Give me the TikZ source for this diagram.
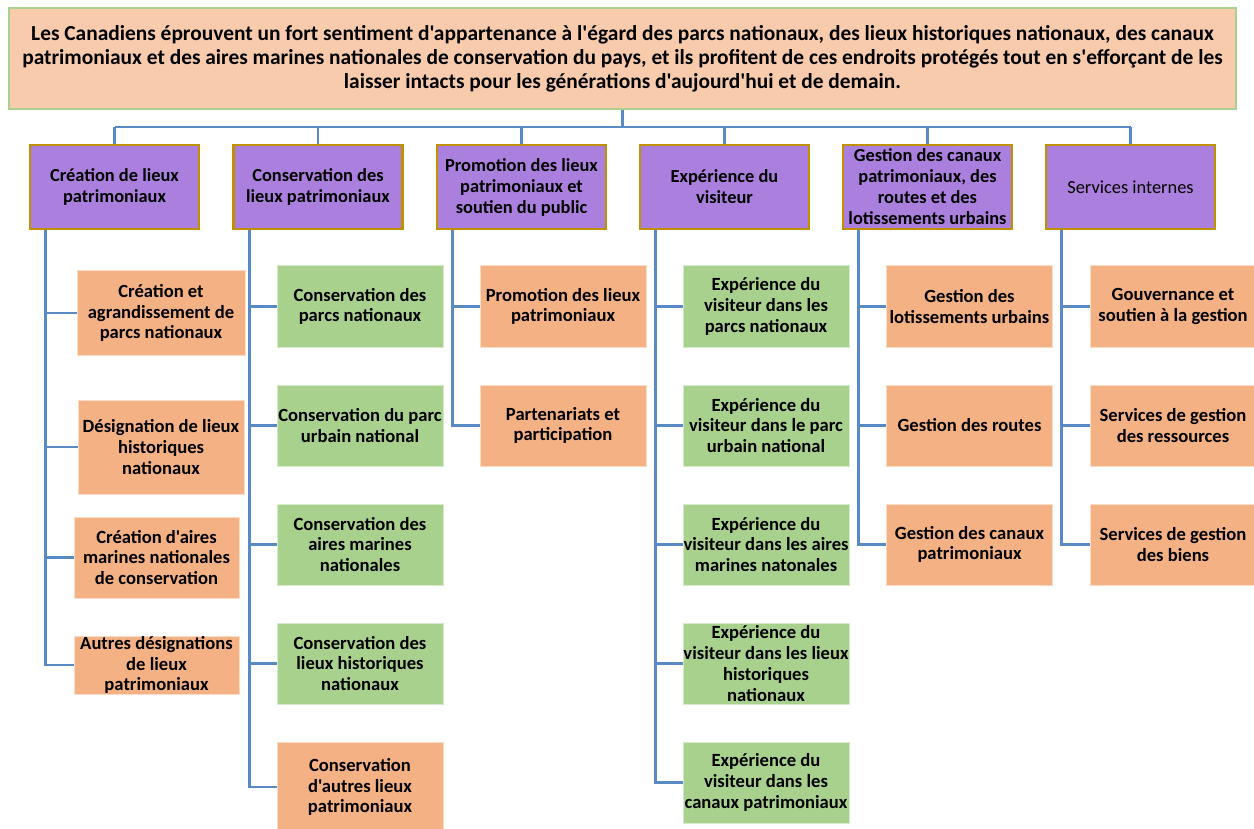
\documentclass[tikz,border=0pt]{standalone}
\usepackage{fontspec}
\newfontfamily\carl{Carlito}
\definecolor{topfill}{HTML}{F8CBAD}
\definecolor{topline}{HTML}{A9D18E}
\definecolor{catfill}{HTML}{AB7FDD}
\definecolor{catline}{HTML}{BF9000}
\definecolor{orfill}{HTML}{F4B183}
\definecolor{grfill}{HTML}{A9D18E}
\definecolor{conncol}{HTML}{5A8AC6}
\tikzset{
  x=1pt,y=-1pt,
  topbox/.style={fill=topfill,draw=topline,line width=1.5pt,minimum width=1227pt,minimum height=101pt,inner sep=0pt,align=center,font=\carl\bfseries\fontsize{21.4}{23.8}\selectfont},
  catbox/.style={fill=catfill,draw=catline,line width=2.5pt,minimum width=169pt,minimum height=84pt,inner sep=0pt,align=center,font=\carl\bfseries\fontsize{18.4}{21}\selectfont},
  leaf/.style={line width=1pt,minimum width=166pt,minimum height=81pt,inner sep=0pt,align=center,font=\carl\bfseries\fontsize{18.6}{20.8}\selectfont},
  orleaf/.style={leaf,fill=orfill,draw=orfill!45!white},
  grleaf/.style={leaf,fill=grfill,draw=grfill!45!white},
  conn/.style={draw=conncol,line width=2.7pt},
}
\begin{document}
\begin{tikzpicture}
\useasboundingbox[fill=white] (0,0) rectangle (1254,829);
% top
\node[topbox] (top) at (622.5,58.5) {Les Canadiens éprouvent un fort sentiment d'appartenance à l'égard des parcs nationaux, des lieux historiques nationaux, des canaux\\patrimoniaux et des aires marines nationales de conservation du pays, et ils profitent de ces endroits protégés tout en s'efforçant de les\\laisser intacts pour les générations d'aujourd'hui et de demain.};
% categories
\node[catbox] (c1) at (114.5,187) {Création de lieux\\patrimoniaux};
\node[catbox] (c2) at (318,187) {Conservation des\\lieux patrimoniaux};
\node[catbox] (c3) at (521.5,187) {Promotion des lieux\\patrimoniaux et\\soutien du public};
\node[catbox] (c4) at (724.5,187) {Expérience du\\visiteur};
\node[catbox] (c5) at (927.5,187) {Gestion des canaux\\patrimoniaux, des\\routes et des\\lotissements urbains};
\node[catbox,font=\carl\fontsize{18.4}{21}\selectfont] (c6) at (1130.5,187) {Services internes};
% column 1
\node[orleaf,minimum width=168pt,minimum height=84pt] (a1) at (161,313) {Création et\\agrandissement de\\parcs nationaux};
\node[orleaf,minimum width=166pt,minimum height=94pt] (a2) at (161,447) {Désignation de lieux\\historiques\\nationaux};
\node[orleaf,minimum width=165pt,minimum height=81pt] (a3) at (156.5,557.5) {Création d'aires\\marines nationales\\de conservation};
\node[orleaf,minimum width=165pt,minimum height=58pt] (a4) at (156.5,665) {Autres désignations\\de lieux\\patrimoniaux};
% column 2
\node[grleaf] (b1) at (360,306.5) {Conservation des\\parcs nationaux};
\node[grleaf] (b2) at (360,425.5) {Conservation du parc\\urbain national};
\node[grleaf] (b3) at (360,544.5) {Conservation des\\aires marines\\nationales};
\node[grleaf] (b4) at (360,663.5) {Conservation des\\lieux historiques\\nationaux};
\node[orleaf,minimum height=90pt] (b5) at (360,787) {Conservation\\d'autres lieux\\patrimoniaux};
% column 3
\node[orleaf] (p1) at (563,306.5) {Promotion des lieux\\patrimoniaux};
\node[orleaf] (p2) at (563,425.5) {Partenariats et\\participation};
% column 4
\node[grleaf] (e1) at (766,306.5) {Expérience du\\visiteur dans les\\parcs nationaux};
\node[grleaf] (e2) at (766,425.5) {Expérience du\\visiteur dans le parc\\urbain national};
\node[grleaf] (e3) at (766,544.5) {Expérience du\\visiteur dans les aires\\marines natonales};
\node[grleaf] (e4) at (766,663.5) {Expérience du\\visiteur dans les lieux\\historiques\\nationaux};
\node[grleaf] (e5) at (766,782.5) {Expérience du\\visiteur dans les\\canaux patrimoniaux};
% column 5
\node[orleaf] (g1) at (969.5,306.5) {Gestion des\\lotissements urbains};
\node[orleaf] (g2) at (969.5,425.5) {Gestion des routes};
\node[orleaf] (g3) at (969.5,544.5) {Gestion des canaux\\patrimoniaux};
% column 6
\node[orleaf] (s1) at (1173,306.5) {Gouvernance et\\soutien à la gestion};
\node[orleaf] (s2) at (1173,425.5) {Services de gestion\\des ressources};
\node[orleaf] (s3) at (1173,544.5) {Services de gestion\\des biens};
% connectors top
\coordinate (bar) at (0,127);
\draw[conn] (top.south) -- (top.south |- bar);
\draw[conn] (c1.north |- bar) -- (c6.north |- bar);
\foreach \c in {c1,c2,c3,c4,c5,c6} \draw[conn] (\c.north) -- (\c.north |- bar);
% connectors to leaves
\foreach \c/\l in {c1/a1,c1/a2,c1/a3,c1/a4,c2/b1,c2/b2,c2/b3,c2/b4,c2/b5,c3/p1,c3/p2,c4/e1,c4/e2,c4/e3,c4/e4,c4/e5,c5/g1,c5/g2,c5/g3,c6/s1,c6/s2,c6/s3}
  \draw[conn] ([xshift=17pt]\c.south west) |- (\l.west);
\end{tikzpicture}
\end{document}
